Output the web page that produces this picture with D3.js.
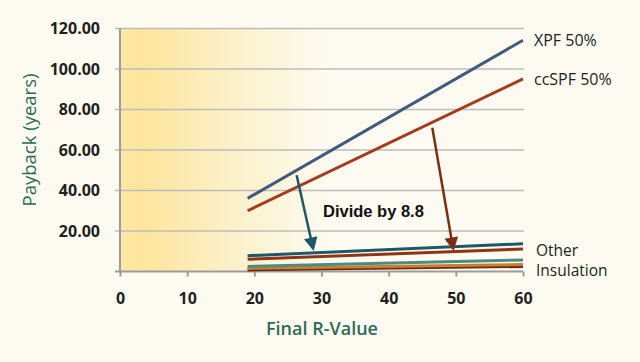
<!DOCTYPE html>
<html>
<head>
<meta charset="utf-8">
<script src="https://cdn.jsdelivr.net/npm/d3@7"></script>
<style>
  html, body { margin: 0; padding: 0; background: #fdfbf1; }
  svg { display: block; }
  .tick-label { font-family: 'Open Sans', sans-serif; font-weight: 700; font-size: 16px; fill: #231f20; }
  .series-label { font-family: 'Open Sans', sans-serif; font-size: 15.5px; fill: #231f20; }
  .axis-title { font-family: 'Open Sans', sans-serif; font-weight: 600; font-size: 18px; fill: #2f6a55; }
</style>
</head>
<body>
<div id="container"></div>
<script>
const width = 640
const height = 362

//-----------------------------DATA-----------------------------//
const rValues = [19, 60]
const xpf = [36.1, 114.2]
const ccspf = [30.0, 95.1]
const otherTeal = [7.8, 13.7]
const otherRust = [6.0, 11.1]
const otherGreen = [2.5, 5.7]
const otherOrange = [1.5, 3.4]
const otherBrown = [0.8, 2.5]
const xTicks = [0, 10, 20, 30, 40, 50, 60]
const yTicks = [20, 40, 60, 80, 100, 120]
// arrows: [R, payback] start and tip
const arrowTeal = [[26.3, 47.5], [28.75, 11.4]]
const arrowRust = [[46.5, 71.0], [49.6, 11.4]]

const series = [
    { id: 'otherBrown', values: otherBrown, color: '#6e2a12' },
    { id: 'otherOrange', values: otherOrange, color: '#c8812f' },
    { id: 'otherGreen', values: otherGreen, color: '#4c8a84' },
    { id: 'otherRust', values: otherRust, color: '#8f3514' },
    { id: 'otherTeal', values: otherTeal, color: '#1d5869' },
    { id: 'ccspf', values: ccspf, color: '#a43b1d' },
    { id: 'xpf', values: xpf, color: '#3f5a7e' }
]

const svg = d3.select('div#container').append('svg')
    .attr('width', width)
    .attr('height', height)

//----------------------------SCALES----------------------------//
const xScale = d3.scaleLinear().domain([0, 60]).range([120, 523])
const yScale = d3.scaleLinear().domain([0, 120]).range([271.5, 28.5])

//--------------------------BACKGROUND--------------------------//
const defs = svg.append('defs')
const grad = defs.append('linearGradient')
    .attr('id', 'bg-grad')
    .attr('x1', '0%').attr('x2', '100%').attr('y1', '0%').attr('y2', '0%')
grad.append('stop').attr('offset', '0%').attr('stop-color', '#fde9a6')
grad.append('stop').attr('offset', '5%').attr('stop-color', '#fde59b')
grad.append('stop').attr('offset', '25%').attr('stop-color', '#fcefc4')
grad.append('stop').attr('offset', '52%').attr('stop-color', '#fdfbf1')
grad.append('stop').attr('offset', '100%').attr('stop-color', '#fdfbf1')

svg.append('rect')
    .attr('x', xScale(0))
    .attr('y', yScale(120))
    .attr('width', xScale(60) - xScale(0))
    .attr('height', yScale(0) - yScale(120))
    .attr('fill', 'url(#bg-grad)')

defs.selectAll('marker')
    .data([['head-teal', '#1d5869'], ['head-rust', '#7c2f10']])
    .enter()
    .append('marker')
    .attr('id', d => d[0])
    .attr('viewBox', '0 0 10 10')
    .attr('refX', 8)
    .attr('refY', 5)
    .attr('markerWidth', 6)
    .attr('markerHeight', 5.5)
    .attr('markerUnits', 'strokeWidth')
    .attr('orient', 'auto')
    .append('path')
    .attr('d', 'M0,0 L10,5 L0,10 Z')
    .attr('fill', d => d[1])

//-----------------------------GRID-----------------------------//
svg.append('g')
    .selectAll('line')
    .data(yTicks)
    .enter()
    .append('line')
    .attr('x1', xScale(0) - 5)
    .attr('x2', xScale(60) + 1)
    .attr('y1', d => yScale(d))
    .attr('y2', d => yScale(d))
    .attr('stroke', '#bcbcbc')
    .attr('stroke-width', 1.5)

//-----------------------------AXES-----------------------------//
const xaxis = d3.axisBottom(xScale)
    .tickValues(xTicks)
    .tickSize(5)
    .tickFormat(d3.format('d'))

const yaxis = d3.axisLeft(yScale)
    .tickValues(yTicks)
    .tickSize(0)
    .tickPadding(20)
    .tickFormat(d3.format('.2f'))

const gx = svg.append('g')
    .attr('transform', 'translate(0,' + yScale(0) + ')')
    .call(xaxis)
gx.select('.domain').attr('d', 'M' + (xScale(0) - 5) + ',0H' + xScale(60))
gx.selectAll('line, .domain').attr('stroke', '#9b9b9b').attr('stroke-width', 2)
gx.selectAll('text')
    .attr('class', 'tick-label')
    .attr('y', 21)
    .attr('dy', '0.71em')

const gy = svg.append('g')
    .attr('transform', 'translate(' + xScale(0) + ',0)')
    .call(yaxis)
gy.select('.domain').attr('d', 'M0,' + yScale(120) + 'V' + yScale(0))
    .attr('stroke', '#9b9b9b').attr('stroke-width', 2)
gy.selectAll('text').attr('class', 'tick-label')

//----------------------------LINES-----------------------------//
const line = d3.line()
    .x(d => xScale(d.r))
    .y(d => yScale(d.v))

svg.append('g')
    .selectAll('path')
    .data(series)
    .enter()
    .append('path')
    .attr('d', s => line(s.values.map((v, i) => ({ r: rValues[i], v: v }))))
    .attr('fill', 'none')
    .attr('stroke', s => s.color)
    .attr('stroke-width', 3)

//----------------------------ARROWS----------------------------//
svg.append('g')
    .selectAll('line')
    .data([[arrowTeal, '#1d5869', 'head-teal'], [arrowRust, '#7c2f10', 'head-rust']])
    .enter()
    .append('line')
    .attr('x1', d => xScale(d[0][0][0]))
    .attr('y1', d => yScale(d[0][0][1]))
    .attr('x2', d => xScale(d[0][1][0]))
    .attr('y2', d => yScale(d[0][1][1]))
    .attr('stroke', d => d[1])
    .attr('stroke-width', 2.5)
    .attr('marker-end', d => 'url(#' + d[2] + ')')

svg.append('text')
    .attr('x', 323)
    .attr('y', 217)
    .style('font-family', 'Arial, "Liberation Sans", sans-serif')
    .style('font-weight', 'bold')
    .style('font-size', '16.5px')
    .style('fill', '#111')
    .text('Divide by 8.8')

//----------------------------LABELS----------------------------//
svg.append('text')
    .attr('class', 'series-label')
    .attr('x', xScale(60) + 11)
    .attr('y', yScale(xpf[1]))
    .attr('dy', '0.35em')
    .style('font-size', '16px')
    .text('XPF 50%')

svg.append('text')
    .attr('class', 'series-label')
    .attr('x', xScale(60) + 11)
    .attr('y', yScale(ccspf[1]))
    .attr('dy', '0.35em')
    .style('font-size', '16px')
    .text('ccSPF 50%')

svg.append('text')
    .attr('class', 'series-label')
    .attr('x', xScale(60) + 13)
    .attr('y', 251)
    .attr('dy', '0.35em')
    .text('Other')

svg.append('text')
    .attr('class', 'series-label')
    .attr('x', xScale(60) + 13)
    .attr('y', 271)
    .attr('dy', '0.35em')
    .text('Insulation')

svg.append('text')
    .attr('class', 'axis-title')
    .attr('text-anchor', 'middle')
    .attr('transform', 'translate(36,140) rotate(-90)')
    .style('font-weight', 400)
    .style('font-size', '18.5px')
    .text('Payback (years)')

svg.append('text')
    .attr('class', 'axis-title')
    .attr('text-anchor', 'middle')
    .attr('x', 322)
    .attr('y', 335)
    .text('Final R-Value')
</script>
</body>
</html>
